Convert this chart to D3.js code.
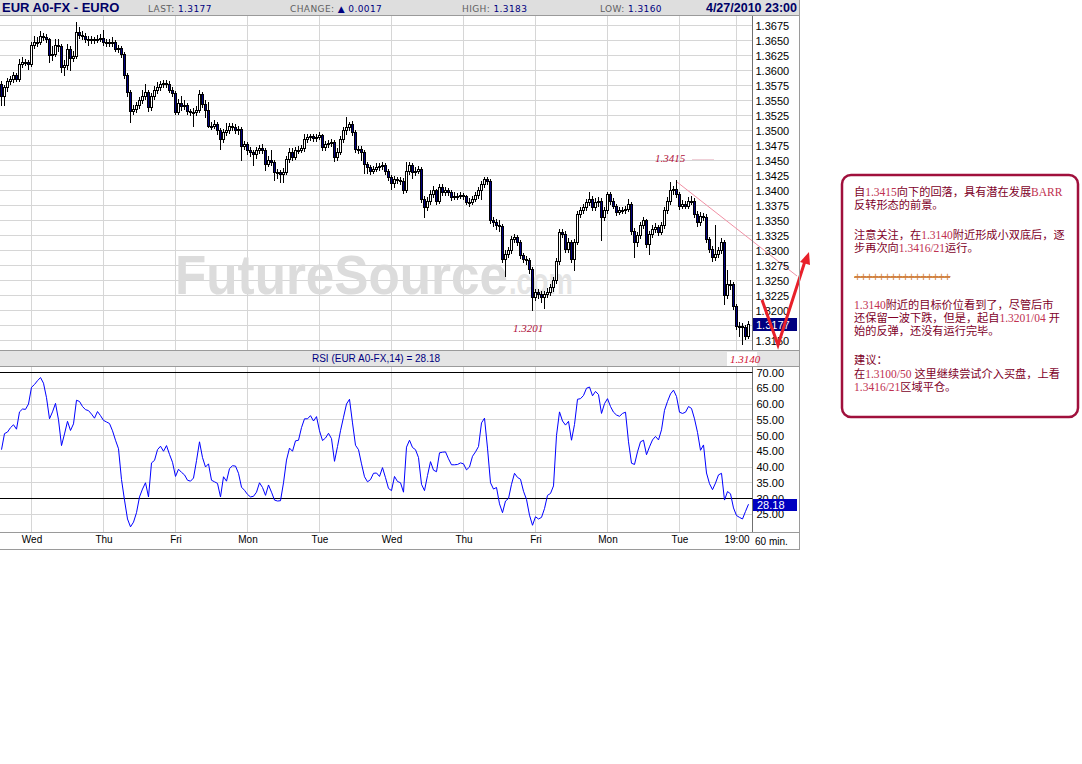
<!DOCTYPE html>
<html><head><meta charset="utf-8">
<script src="https://cdn.jsdelivr.net/npm/d3@7"></script>
<style>body{margin:0;background:#fff}svg{display:block}</style>
</head><body>
<svg id="c" width="1082" height="764"></svg>
<script>
const firstOpen = 1.3578;
const closes = [1.3558,1.3572,1.3583,1.3585,1.3592,1.3585,1.3611,1.3614,1.3615,1.3611,
1.3642,1.3648,1.3647,1.3658,1.3656,1.3653,1.3626,1.3628,1.3642,1.3640,
1.3606,1.3609,1.3636,1.3620,1.3624,1.3664,1.3659,1.3658,1.3652,1.3653,
1.3650,1.3652,1.3653,1.3654,1.3647,1.3648,1.3646,1.3647,1.3636,1.3637,
1.3628,1.3592,1.3564,1.3533,1.3536,1.3542,1.3550,1.3558,1.3564,1.3539,
1.3558,1.3568,1.3572,1.3578,1.3579,1.3578,1.3568,1.3563,1.3530,1.3546,
1.3540,1.3542,1.3532,1.3530,1.3531,1.3534,1.3561,1.3544,1.3534,1.3508,
1.3508,1.3511,1.3500,1.3485,1.3497,1.3500,1.3508,1.3506,1.3500,1.3502,
1.3475,1.3478,1.3467,1.3464,1.3461,1.3467,1.3470,1.3468,1.3444,1.3450,
1.3447,1.3430,1.3430,1.3428,1.3431,1.3453,1.3464,1.3456,1.3467,1.3468,
1.3470,1.3486,1.3489,1.3490,1.3488,1.3489,1.3492,1.3472,1.3478,1.3479,
1.3481,1.3456,1.3464,1.3486,1.3500,1.3506,1.3510,1.3497,1.3469,1.3469,
1.3464,1.3444,1.3439,1.3433,1.3436,1.3439,1.3440,1.3442,1.3433,1.3422,
1.3412,1.3419,1.3417,1.3416,1.3400,1.3433,1.3442,1.3431,1.3433,1.3436,
1.3386,1.3372,1.3383,1.3394,1.3400,1.3383,1.3406,1.3397,1.3400,1.3397,
1.3389,1.3390,1.3391,1.3392,1.3390,1.3381,1.3381,1.3386,1.3392,1.3400,
1.3411,1.3419,1.3416,1.3350,1.3347,1.3342,1.3340,1.3286,1.3294,1.3300,
1.3319,1.3322,1.3314,1.3292,1.3286,1.3284,1.3269,1.3222,1.3231,1.3228,
1.3222,1.3228,1.3231,1.3239,1.3250,1.3283,1.3331,1.3328,1.3303,1.3314,
1.3286,1.3314,1.3361,1.3367,1.3372,1.3381,1.3386,1.3372,1.3381,1.3383,
1.3356,1.3367,1.3394,1.3383,1.3375,1.3364,1.3367,1.3367,1.3369,1.3378,
1.3333,1.3314,1.3325,1.3342,1.3350,1.3311,1.3328,1.3336,1.3339,1.3331,
1.3342,1.3367,1.3383,1.3400,1.3403,1.3394,1.3375,1.3378,1.3375,1.3383,
1.3383,1.3361,1.3347,1.3358,1.3356,1.3319,1.3303,1.3289,1.3294,1.3300,
1.3314,1.3225,1.3244,1.3244,1.3208,1.3175,1.3175,1.3172,1.3158,1.3177];
const highs = [1.3583,1.3576,1.3588,1.3590,1.3597,1.3596,1.3619,1.3622,1.3619,1.3618,
1.3647,1.3658,1.3656,1.3665,1.3662,1.3660,1.3655,1.3640,1.3653,1.3652,
1.3644,1.3618,1.3644,1.3640,1.3632,1.3681,1.3672,1.3666,1.3662,1.3658,
1.3657,1.3656,1.3659,1.3660,1.3667,1.3653,1.3652,1.3656,1.3651,1.3642,
1.3640,1.3631,1.3596,1.3567,1.3543,1.3547,1.3556,1.3567,1.3578,1.3568,
1.3563,1.3575,1.3580,1.3583,1.3584,1.3584,1.3583,1.3572,1.3566,1.3552,
1.3558,1.3550,1.3546,1.3536,1.3537,1.3540,1.3567,1.3564,1.3550,1.3547,
1.3514,1.3517,1.3514,1.3504,1.3502,1.3512,1.3513,1.3512,1.3511,1.3507,
1.3505,1.3483,1.3480,1.3472,1.3468,1.3472,1.3476,1.3478,1.3471,1.3457,
1.3467,1.3450,1.3436,1.3434,1.3437,1.3458,1.3470,1.3470,1.3472,1.3474,
1.3476,1.3494,1.3494,1.3495,1.3494,1.3494,1.3498,1.3495,1.3483,1.3484,
1.3486,1.3484,1.3470,1.3491,1.3506,1.3523,1.3515,1.3516,1.3500,1.3475,
1.3474,1.3467,1.3448,1.3442,1.3441,1.3446,1.3446,1.3447,1.3446,1.3436,
1.3425,1.3424,1.3423,1.3422,1.3420,1.3448,1.3448,1.3446,1.3439,1.3441,
1.3439,1.3390,1.3389,1.3400,1.3408,1.3403,1.3411,1.3410,1.3405,1.3404,
1.3400,1.3398,1.3396,1.3397,1.3396,1.3393,1.3387,1.3391,1.3397,1.3405,
1.3416,1.3423,1.3422,1.3419,1.3356,1.3352,1.3350,1.3344,1.3300,1.3306,
1.3324,1.3327,1.3326,1.3317,1.3296,1.3290,1.3288,1.3272,1.3236,1.3236,
1.3233,1.3233,1.3237,1.3244,1.3256,1.3288,1.3336,1.3336,1.3333,1.3320,
1.3318,1.3319,1.3366,1.3372,1.3378,1.3386,1.3397,1.3390,1.3387,1.3389,
1.3387,1.3372,1.3398,1.3397,1.3387,1.3378,1.3372,1.3372,1.3374,1.3386,
1.3381,1.3337,1.3331,1.3347,1.3356,1.3353,1.3333,1.3342,1.3345,1.3343,
1.3347,1.3372,1.3389,1.3414,1.3408,1.3417,1.3398,1.3384,1.3383,1.3389,
1.3390,1.3387,1.3365,1.3364,1.3362,1.3360,1.3323,1.3307,1.3342,1.3306,
1.3320,1.3318,1.3267,1.3250,1.3247,1.3211,1.3181,1.3179,1.3176,1.3183];
const lows = [1.3542,1.3543,1.3566,1.3578,1.3581,1.3582,1.3583,1.3606,1.3609,1.3603,
1.3608,1.3638,1.3641,1.3644,1.3650,1.3648,1.3614,1.3618,1.3624,1.3633,
1.3597,1.3592,1.3603,1.3600,1.3616,1.3620,1.3654,1.3652,1.3648,1.3642,
1.3645,1.3646,1.3648,1.3649,1.3643,1.3641,1.3640,1.3641,1.3632,1.3630,
1.3622,1.3588,1.3558,1.3515,1.3527,1.3530,1.3537,1.3546,1.3553,1.3533,
1.3535,1.3553,1.3563,1.3567,1.3572,1.3572,1.3564,1.3557,1.3528,1.3527,
1.3535,1.3536,1.3527,1.3525,1.3508,1.3526,1.3531,1.3539,1.3522,1.3505,
1.3503,1.3504,1.3495,1.3469,1.3480,1.3492,1.3496,1.3500,1.3496,1.3495,
1.3450,1.3469,1.3461,1.3458,1.3442,1.3455,1.3462,1.3463,1.3434,1.3440,
1.3442,1.3418,1.3420,1.3414,1.3414,1.3427,1.3448,1.3450,1.3452,1.3462,
1.3464,1.3466,1.3481,1.3484,1.3483,1.3482,1.3485,1.3467,1.3468,1.3473,
1.3475,1.3449,1.3450,1.3460,1.3481,1.3495,1.3500,1.3492,1.3464,1.3463,
1.3450,1.3429,1.3429,1.3428,1.3429,1.3432,1.3434,1.3436,1.3428,1.3417,
1.3403,1.3406,1.3412,1.3411,1.3396,1.3397,1.3428,1.3421,1.3426,1.3429,
1.3381,1.3356,1.3367,1.3378,1.3389,1.3378,1.3379,1.3392,1.3393,1.3392,
1.3384,1.3385,1.3386,1.3387,1.3385,1.3377,1.3375,1.3377,1.3382,1.3388,
1.3386,1.3406,1.3410,1.3345,1.3340,1.3336,1.3333,1.3281,1.3258,1.3289,
1.3296,1.3314,1.3309,1.3287,1.3280,1.3277,1.3263,1.3201,1.3217,1.3220,
1.3214,1.3204,1.3222,1.3226,1.3233,1.3246,1.3278,1.3322,1.3298,1.3297,
1.3280,1.3267,1.3310,1.3356,1.3362,1.3367,1.3376,1.3367,1.3368,1.3375,
1.3317,1.3351,1.3362,1.3378,1.3370,1.3359,1.3360,1.3362,1.3363,1.3365,
1.3328,1.3289,1.3308,1.3320,1.3337,1.3306,1.3294,1.3322,1.3331,1.3326,
1.3327,1.3338,1.3362,1.3378,1.3394,1.3389,1.3369,1.3370,1.3370,1.3371,
1.3377,1.3356,1.3341,1.3343,1.3350,1.3314,1.3297,1.3283,1.3284,1.3289,
1.3296,1.3211,1.3220,1.3236,1.3203,1.3170,1.3158,1.3144,1.3152,1.3155];
const rsi = [45.5,50.6,51.1,52.5,53.4,52,57.5,58.4,58.3,60,
65.3,66.2,67.4,68.4,66.6,62,55.3,57.5,60.2,55,
46.8,50.5,54.5,51.6,53.7,61.2,60.8,59.2,58.2,57.9,
56.8,55.5,57.6,56.3,54.8,54.3,53.8,51.5,48.5,45.8,
36,29.5,23.5,21,22.5,25.5,30.5,33,35,30.5,
41.3,42.1,45.5,46.6,45,46.8,44,41.5,37,39.3,
38.3,37.5,35.8,35.5,36.5,42,48,43,40,41,
35.8,35.3,34.8,30.5,36.9,35.5,39.5,40.4,40.3,38,
33.6,32.6,31.3,30.5,30.7,32,35,33.5,31,34.3,
32,29.5,29.2,29.3,35,42.2,46,45,48.3,48.5,
52.5,55.3,55.3,56.3,54.6,56,51.5,48.4,49.2,50.7,
49,41.8,46.5,51.5,55.8,60,61.5,54,46.9,45.5,
41,36.9,35.3,36,38,38.1,37,39.8,36.6,33.2,
32.5,37,35.4,35,32,46.3,48.5,46.2,45.5,43,
34.5,32.5,37.3,41.7,39,38.5,44.5,44.7,44.8,42.6,
40.7,40.7,40.8,41.3,41,39.1,40,43.4,44.8,46.5,
54,55.5,46,35,33,33.5,28.3,25.5,29.2,30,
34.5,38,36.7,36.1,32.3,29.7,24.7,21.5,24.2,23.5,
24,26.8,31,31.6,34,50,57.5,54.6,53.3,54.5,
48.5,53.5,61.5,61.7,62.7,65,65.4,62.6,64,63,
57,60.1,61.7,59.2,57.4,56.5,56.1,57,57.4,48,
41.2,40.8,44.8,48,48.5,43.9,46.4,48.6,49.7,48.6,
51.8,58,60.8,63.2,64.4,62.4,57.4,57,57.4,59.2,
58.6,55.3,51,45.3,47,38.1,34.7,32.8,34.9,37.5,
38,29.5,32.2,31.5,27,24.6,24,23.5,25.9,28.18];
const dayLabels = ["Wed","Thu","Fri","Mon","Tue","Wed","Thu","Fri","Mon","Tue","19:00"];
const dayIndex = [10,34,58,82,106,130,154,178,202,226,245];
const priceTicks = [1.3675,1.3650,1.3625,1.3600,1.3575,1.3550,1.3525,1.3500,1.3475,1.3450,1.3425,1.3400,1.3375,1.3350,1.3325,1.3300,1.3275,1.3250,1.3225,1.3200,1.3150];
const rsiTicks = [70,65,60,55,50,45,40,35,30,25];
const header = {name:"EUR A0-FX - EURO", last:"1.3177", change:"0.0017", high:"1.3183", low:"1.3160", date:"4/27/2010 23:00"};
const rsiTitle = "RSI (EUR A0-FX,14) = 28.18";
const lastRsi = "28.18";
const noteLines = [
 [["自",0],["1.3415",1],["向下的回落，具有潜在发展",0],["BARR",1]],
 [["反转形态的前景。",0]],
 [["注意关注，在",0],["1.3140",1],["附近形成小双底后，逐",0]],
 [["步再次向",0],["1.3416/21",1],["运行。",0]],
 [["++++++++++++++++",2]],
 [["1.3140",1],["附近的目标价位看到了，尽管后市",0]],
 [["还保留一波下跌，但是，起自",0],["1.3201/04 ",1],["开",0]],
 [["始的反弹，还没有运行完毕。",0]],
 [["建议：",0]],
 [["在",0],["1.3100/50 ",1],["这里继续尝试介入买盘，上看",0]],
 [["1.3416/21",1],["区域平仓。",0]]
];
const noteY = [196,209,239,252,281,309,322,335,364,378,391];

const svg = d3.select('#c');
const AX = 752.5, RIGHT = 799.5;
const PT = 16, PB = 350, RT = 367, RB = 532;
const x = d3.scaleLinear().domain([0, closes.length-1]).range([1.5, 748.5]);
const y = d3.scaleLinear().domain([1.3150, 1.3675]).range([340.5, 25.5]);
const yr = d3.scaleLinear().domain([30, 70]).range([498.5, 372.5]);
const crisp = v => Math.round(v - 0.5) + 0.5;
const SANS = "'Liberation Sans', Arial, sans-serif";
const VERD = "'DejaVu Sans', Verdana, sans-serif";

svg.append('rect').attr('width',1082).attr('height',764).attr('fill','#fff');
svg.append('rect').attr('x',0).attr('y',0).attr('width',800).attr('height',15).attr('fill','#dedede');
svg.append('line').attr('x1',0).attr('x2',800).attr('y1',15.5).attr('y2',15.5).attr('stroke','#9a9a9a');

const defs = svg.append('defs');
defs.append('clipPath').attr('id','pc').append('rect').attr('x',0).attr('y',PT).attr('width',752).attr('height',PB-PT);
defs.append('clipPath').attr('id','rc').append('rect').attr('x',0).attr('y',RT).attr('width',752).attr('height',RB-RT);

const grid = svg.append('g').attr('stroke','#d6d6d6').attr('stroke-width',1);
grid.selectAll('.hp').data(priceTicks.concat([1.3175])).join('line')
  .attr('x1',0).attr('x2',AX).attr('y1',d=>crisp(y(d))).attr('y2',d=>crisp(y(d)));
grid.selectAll('.vp').data(dayIndex).join('line')
  .attr('x1',d=>crisp(x(d))).attr('x2',d=>crisp(x(d))).attr('y1',PT).attr('y2',PB);
grid.selectAll('.vr').data(dayIndex).join('line')
  .attr('x1',d=>crisp(x(d))).attr('x2',d=>crisp(x(d))).attr('y1',RT).attr('y2',RB);
grid.selectAll('.hr').data(rsiTicks.filter(t=>t!==70&&t!==30)).join('line')
  .attr('x1',0).attr('x2',AX).attr('y1',d=>crisp(yr(d))).attr('y2',d=>crisp(yr(d)));

const wm = svg.append('g').attr('clip-path','url(#pc)');
wm.append('text').attr('x',175).attr('y',294).attr('font-family',SANS).attr('font-weight','bold')
  .attr('font-size',56).attr('fill','#dcdcdc').attr('textLength',333).attr('lengthAdjust','spacingAndGlyphs').text('FutureSource');
wm.append('text').attr('x',509).attr('y',294).attr('font-family',SANS).attr('font-weight','bold')
  .attr('font-size',36).attr('fill','#e4e4e4').attr('textLength',64).attr('lengthAdjust','spacingAndGlyphs').text('.com');

const bars = closes.map((c,i)=>({i, o: i ? closes[i-1] : firstOpen, c, h: highs[i], l: lows[i]}));
const cg = svg.append('g').attr('clip-path','url(#pc)');
cg.selectAll('.w').data(bars).join('line')
  .attr('x1',d=>x(d.i)).attr('x2',d=>x(d.i))
  .attr('y1',d=>Math.round(y(d.h))).attr('y2',d=>Math.round(y(d.l))+1)
  .attr('stroke','#000').attr('stroke-width',1);
cg.selectAll('.b').data(bars).join('rect')
  .attr('x',d=>x(d.i)-1).attr('width',2)
  .attr('y',d=>Math.round(y(Math.max(d.o,d.c)))+0.5)
  .attr('height',d=>Math.max(1, Math.round(y(Math.min(d.o,d.c))) - Math.round(y(Math.max(d.o,d.c)))))
  .attr('fill',d=>d.c < d.o ? '#000080' : '#fff')
  .attr('stroke','#000').attr('stroke-width',1);

const ann = svg.append('g');
ann.append('line').attr('x1',677).attr('y1',182).attr('x2',797).attr('y2',276).attr('stroke','#f090a4').attr('stroke-width',1);
ann.append('line').attr('x1',692).attr('y1',159.5).attr('x2',714).attr('y2',159.5).attr('stroke','#f0d0d8').attr('stroke-width',1);
const annFont = "'Liberation Serif', 'Times New Roman', serif";
ann.append('text').attr('x',655).attr('y',162).attr('font-family',annFont).attr('font-style','italic').attr('font-size',11).attr('fill','#b0103a').text('1.3415');
ann.append('text').attr('x',513).attr('y',332).attr('font-family',annFont).attr('font-style','italic').attr('font-size',11).attr('fill','#b0103a').text('1.3201');

svg.append('line').attr('x1',AX).attr('x2',AX).attr('y1',PT).attr('y2',RB).attr('stroke','#707070');
const pa = svg.append('g').attr('transform',`translate(${AX},0)`)
  .call(d3.axisRight(y).tickValues(priceTicks).tickSize(0).tickPadding(3).tickFormat(d3.format('.4f')));
pa.select('.domain').remove();
pa.selectAll('text').attr('font-family',SANS).attr('font-size',11).attr('fill','#000');
svg.append('rect').attr('x',753).attr('y',crisp(y(1.3177))-6.5).attr('width',44).attr('height',13).attr('fill','#000080');
svg.append('text').attr('x',756).attr('y',crisp(y(1.3177))+4).attr('font-family',SANS).attr('font-size',11).attr('fill','#fff').text(header.last);

svg.append('path').attr('d','M762,300 L778,345 L806,258').attr('fill','none').attr('stroke','#e8202a').attr('stroke-width',3).attr('stroke-linejoin','miter');
svg.append('path').attr('d','M809,252 L800,262 L810,265 Z').attr('fill','#e8202a');

svg.append('line').attr('x1',0).attr('x2',800).attr('y1',350.5).attr('y2',350.5).attr('stroke','#9a9a9a');
svg.append('rect').attr('x',0).attr('y',351).attr('width',800).attr('height',15).attr('fill','#e4e4e4');
svg.append('line').attr('x1',0).attr('x2',800).attr('y1',366.5).attr('y2',366.5).attr('stroke','#9a9a9a');
svg.append('text').attr('x',376).attr('y',362).attr('text-anchor','middle').attr('font-family',SANS).attr('font-size',10).attr('fill','#000080').text(rsiTitle);
svg.append('rect').attr('x',727).attr('y',352).attr('width',30).attr('height',14).attr('fill','#fff');
svg.append('text').attr('x',730).attr('y',363).attr('font-family',annFont).attr('font-style','italic').attr('font-size',11).attr('fill','#d01030').text('1.3140');

svg.selectAll('.lvl').data([70,30]).join('line')
  .attr('x1',0).attr('x2',AX).attr('y1',d=>crisp(yr(d))).attr('y2',d=>crisp(yr(d))).attr('stroke','#000');
svg.append('g').attr('clip-path','url(#rc)').append('path').datum(rsi)
  .attr('d', d3.line().x((d,i)=>x(i)).y(d=>yr(d)))
  .attr('fill','none').attr('stroke','#0000ff').attr('stroke-width',1);
const ra = svg.append('g').attr('transform',`translate(${AX},0)`)
  .call(d3.axisRight(yr).tickValues(rsiTicks).tickSize(0).tickPadding(4).tickFormat(d3.format('.2f')));
ra.select('.domain').remove();
ra.selectAll('text').attr('font-family',SANS).attr('font-size',11).attr('fill','#000');
svg.append('rect').attr('x',753).attr('y',crisp(yr(28.18))-5.5).attr('width',44).attr('height',12).attr('fill','#0000c0');
svg.append('text').attr('x',757).attr('y',crisp(yr(28.18))+4.5).attr('font-family',SANS).attr('font-size',11).attr('fill','#fff').text(lastRsi);

svg.append('line').attr('x1',0).attr('x2',800).attr('y1',532.5).attr('y2',532.5).attr('stroke','#9a9a9a');
svg.append('line').attr('x1',0).attr('x2',800).attr('y1',549.5).attr('y2',549.5).attr('stroke','#9a9a9a');
const xa = svg.append('g').attr('transform','translate(0,536)')
  .call(d3.axisBottom(x).tickValues(dayIndex).tickSize(0).tickPadding(0).tickFormat((d,k)=>dayLabels[k]));
xa.select('.domain').remove();
xa.selectAll('text').attr('font-family',SANS).attr('font-size',10).attr('fill','#000').attr('dy','0.71em');
svg.append('text').attr('x',755).attr('y',545).attr('font-family',SANS).attr('font-size',10).attr('fill','#000').text('60 min.');

svg.append('line').attr('x1',RIGHT).attr('x2',RIGHT).attr('y1',0).attr('y2',550).attr('stroke','#9a9a9a');

const hd = svg.append('g');
hd.append('text').attr('x',2).attr('y',12).attr('font-family',SANS).attr('font-weight','bold').attr('font-size',13).attr('fill','#000066').text(header.name);
function hpair(xp, label, val){
  const t = hd.append('text').attr('x',xp).attr('y',11.5).attr('font-family',VERD).attr('font-size',9).attr('letter-spacing',0.4);
  t.append('tspan').attr('fill','#606060').text(label);
  t.append('tspan').attr('fill','#000080').text(val);
}
hpair(148,'LAST: ',header.last);
hpair(290,'CHANGE: ','\u25B2 '+header.change);
hpair(462,'HIGH: ',header.high);
hpair(600,'LOW: ',header.low);
hd.append('text').attr('x',797).attr('y',12).attr('text-anchor','end').attr('font-family',SANS).attr('font-weight','bold').attr('font-size',12.5).attr('fill','#000066').text(header.date);

svg.append('rect').attr('x',842).attr('y',175).attr('width',236).attr('height',242).attr('rx',9)
  .attr('fill','#fff').attr('stroke','#a0103c').attr('stroke-width',2.5);
const CJK = "'Noto Sans CJK SC', sans-serif";
noteLines.forEach((segs,k)=>{
  const t = svg.append('text').attr('x',854).attr('y',noteY[k]).attr('font-size',11.2);
  segs.forEach(([s,kind])=>{
    const sp = t.append('tspan').text(s);
    if(kind===1) sp.attr('font-family',annFont).attr('font-size',11.5).attr('fill','#c03050');
    else if(kind===2) sp.attr('font-family',SANS).attr('font-size',12).attr('fill','#d08040').attr('letter-spacing',-1).attr('text-decoration','line-through');
    else sp.attr('font-family',CJK).attr('fill','#800028');
  });
});
</script>
</body></html>
